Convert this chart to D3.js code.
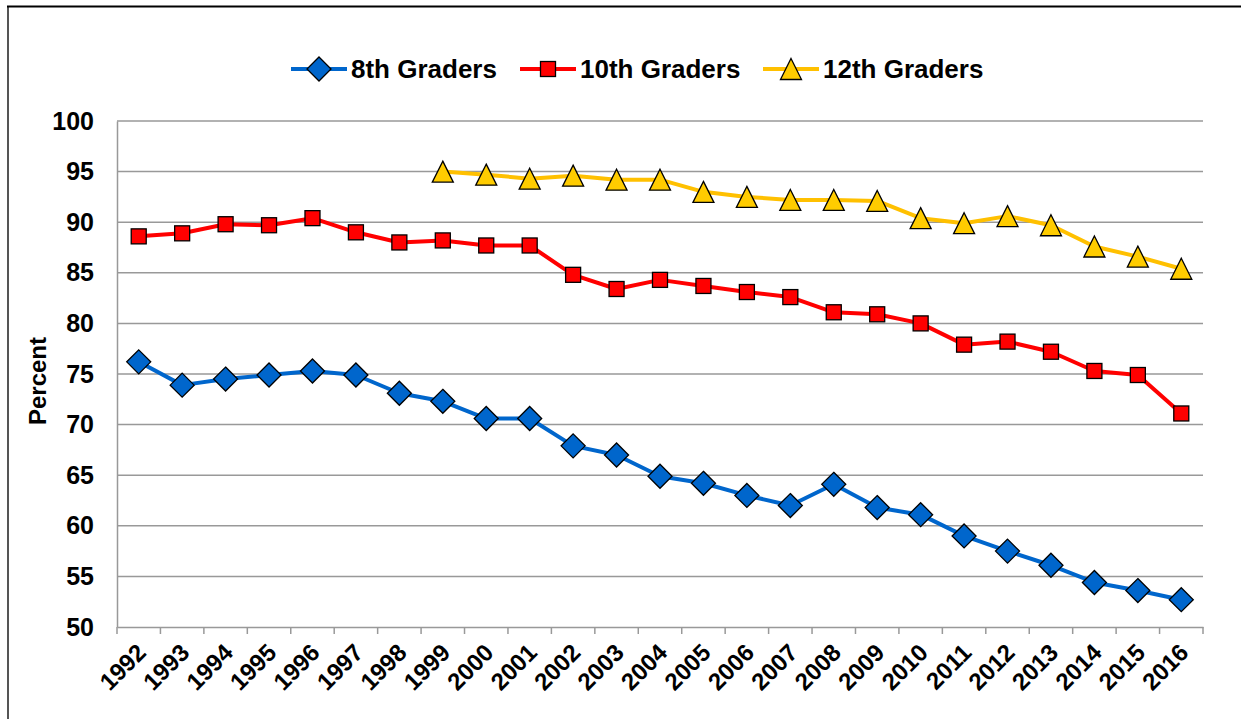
<!DOCTYPE html>
<html><head><meta charset="utf-8">
<script src="https://cdn.jsdelivr.net/npm/d3@7"></script>
<style>body{margin:0;background:#fff}svg{display:block}text{font-family:"Liberation Sans",Arial,sans-serif;font-weight:bold;fill:#000}</style>
</head><body><svg id="c" width="1241" height="719"></svg>
<script>
const years = ["1992","1993","1994","1995","1996","1997","1998","1999","2000","2001","2002","2003","2004","2005","2006","2007","2008","2009","2010","2011","2012","2013","2014","2015","2016"];
const grade8 = [76.2,73.9,74.5,74.9,75.3,74.9,73.1,72.3,70.6,70.6,67.9,67.0,64.9,64.2,63.0,62.0,64.1,61.8,61.1,59.0,57.5,56.1,54.4,53.6,52.7];
const grade10 = [88.6,88.9,89.8,89.7,90.4,89.0,88.0,88.2,87.7,87.7,84.8,83.4,84.3,83.7,83.1,82.6,81.1,80.9,80.0,77.9,78.2,77.2,75.3,74.9,71.1];
const grade12 = [null,null,null,null,null,null,null,95.0,94.7,94.3,94.6,94.2,94.2,93.0,92.5,92.2,92.2,92.1,90.4,89.9,90.6,89.7,87.6,86.6,85.4];
const yTicks = [50,55,60,65,70,75,80,85,90,95,100];
const seriesNames = ["8th Graders","10th Graders","12th Graders"];

const svg = d3.select("#c");
const L = 117, R = 1203, T = 121, B = 627;
const x = d3.scaleBand().domain(years).range([L, R]);
const y = d3.scaleLinear().domain([50, 100]).range([B, T]);

// frame
svg.append("line").attr("x1",8).attr("x2",8).attr("y1",6).attr("y2",719).attr("stroke","#555").attr("stroke-width",2);
svg.append("line").attr("x1",7).attr("x2",1241).attr("y1",6.5).attr("y2",6.5).attr("stroke","#000").attr("stroke-width",2);

// gridlines
svg.append("g").selectAll("line").data(yTicks.filter(d=>d>50)).join("line")
  .attr("x1",L).attr("x2",R).attr("y1",d=>y(d)).attr("y2",d=>y(d))
  .attr("stroke","#999").attr("stroke-width",1.5);

// y axis
const ya = svg.append("g").attr("transform",`translate(${L},0)`)
  .call(d3.axisLeft(y).tickValues(yTicks).tickSize(0).tickPadding(23));
ya.select(".domain").attr("stroke","#999").attr("stroke-width",1.5);
ya.selectAll("text").style("font-size","25px").style("font-family","'Liberation Sans',Arial,sans-serif").style("font-weight","bold").attr("fill","#000");

// x axis
const xa = svg.append("g").attr("transform",`translate(0,${B})`)
  .call(d3.axisBottom(x).tickSize(0).tickFormat(d=>d));
xa.select(".domain").attr("stroke","#999").attr("stroke-width",1.5);
xa.selectAll(".tick line").remove();
xa.selectAll("text")
  .style("font-size","24px").style("font-family","'Liberation Sans',Arial,sans-serif").style("font-weight","bold").attr("fill","#000")
  .attr("text-anchor","end").attr("y",0)
  .attr("transform",`translate(${x.bandwidth()/2 - 25},${15}) rotate(-45)`)
  .attr("dy","0.71em");
// band-edge ticks
const edges = years.map(d=>x(d)).concat([R]);
svg.append("g").selectAll("line").data(edges).join("line")
  .attr("x1",d=>d).attr("x2",d=>d).attr("y1",B).attr("y2",B+7)
  .attr("stroke","#999").attr("stroke-width",1.5);

// y label
svg.append("text").attr("transform","translate(46,381) rotate(-90)").attr("text-anchor","middle")
  .style("font-size","24px").text("Percent");

const cx = d => x(d) + x.bandwidth()/2;
const series = [
  {name:seriesNames[0], vals:grade8, line:"#0066CC", fill:"#0066CC", sym:"diamond"},
  {name:seriesNames[1], vals:grade10, line:"#FF0000", fill:"#FF0000", sym:"square"},
  {name:seriesNames[2], vals:grade12, line:"#FFC000", fill:"#FFCC00", sym:"triangle"}
];
function marker(g, s, px, py){
  if (s.sym==="diamond"){
    g.append("path").attr("d",`M${px},${py-12}L${px+12},${py}L${px},${py+12}L${px-12},${py}Z`)
      .attr("fill",s.fill).attr("stroke","#000").attr("stroke-width",1.3);
  } else if (s.sym==="square"){
    g.append("rect").attr("x",px-7.5).attr("y",py-7.5).attr("width",15).attr("height",15)
      .attr("fill",s.fill).attr("stroke","#000").attr("stroke-width",1.3);
  } else {
    g.append("path").attr("d",`M${px},${py-10.5}L${px+10.5},${py+10.5}L${px-10.5},${py+10.5}Z`)
      .attr("fill",s.fill).attr("stroke","#000").attr("stroke-width",1.3);
  }
}
series.forEach(s=>{
  const pts = years.map((yr,i)=>({yr,v:s.vals[i]})).filter(p=>p.v!=null);
  const line = d3.line().x(p=>cx(p.yr)).y(p=>y(p.v));
  svg.append("path").datum(pts).attr("d",line).attr("fill","none").attr("stroke",s.line).attr("stroke-width",4).attr("stroke-linejoin","round");
  const g = svg.append("g");
  pts.forEach(p=>marker(g,s,cx(p.yr),y(p.v)));
});

// legend
const legX = [319, 548, 791];
const legY = 69;
series.forEach((s,i)=>{
  const g = svg.append("g");
  g.append("line").attr("x1",legX[i]-28).attr("x2",legX[i]+28).attr("y1",legY).attr("y2",legY).attr("stroke",s.line).attr("stroke-width",4);
  marker(g,s,legX[i],legY);
  g.append("text").attr("x",legX[i]+32).attr("y",legY).attr("dy","0.36em").style("font-size","26px").text(s.name);
});
</script></body></html>
